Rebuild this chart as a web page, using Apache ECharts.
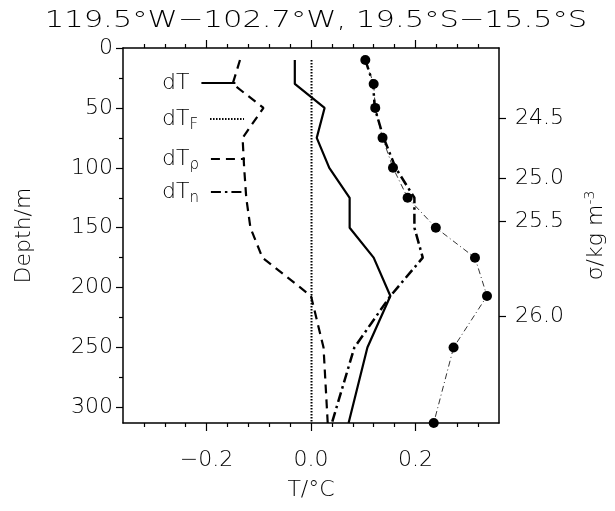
<!DOCTYPE html>
<html>
<head>
<meta charset="utf-8">
<script src="https://cdn.jsdelivr.net/npm/echarts@6/dist/echarts.min.js"></script>
<style>
  html, body { margin: 0; padding: 0; background: #fff; }
  #chart { width: 615px; height: 511px; }
</style>
</head>
<body>
<div id="chart"></div>
<script>
// 标题
var titleText = '119.5°W−102.7°W, 19.5°S−15.5°S'

// 深度 (m)，各曲线共用
var depths = [10, 30, 50, 75, 100, 125, 150, 175, 207, 250, 313]

// 四条温度曲线 (°C)
var dT     = [-0.031, -0.031, 0.026, 0.011, 0.035, 0.074, 0.074, 0.120, 0.152, 0.108, 0.072]
var dTF    = [0.001, 0.001, 0.001, 0.001, 0.001, 0.001, 0.001, 0.001, 0.001, 0.001, 0.001]
var dTrho  = [-0.136, -0.150, -0.091, -0.131, -0.128, -0.124, -0.116, -0.093, 0.000, 0.024, 0.032]
var dTn    = [0.104, 0.119, 0.122, 0.139, 0.162, 0.198, 0.198, 0.214, 0.152, 0.083, 0.040]

// 黑点曲线
var dotValues = [0.104, 0.120, 0.123, 0.137, 0.157, 0.185, 0.239, 0.314, 0.337, 0.273, 0.235]

// 图例
var legendNames = ['dT', 'dTF', 'dTrho', 'dTn']
var legendLabels = ['dT', 'dT{sub|F}', 'dT{sub|ρ}', 'dT{sub|n}']
var legendTops = [67, 103, 143, 176]

// 坐标轴刻度
var xMajorTicks = [-0.2, 0.0, 0.2]
var xMinorTicks = [-0.32, -0.28, -0.24, -0.16, -0.12, -0.08, -0.04, 0.04, 0.08, 0.12, 0.16, 0.24, 0.28, 0.32]
var yMajorTicks = [0, 50, 100, 150, 200, 250, 300]
var yMinorTicks = [25, 75, 125, 175, 225, 275]
// 右轴：密度刻度所在深度与标签
var sigmaDepths = [58.6, 108.6, 144.7, 224]
var sigmaLabels = ['24.5', '25.0', '25.5', '26.0']

function pairs(xs) {
    var out = []
    for (var i = 0; i < depths.length; i++) {
        out.push([xs[i], depths[i]])
    }
    return out
}

var FONT = 'DejaVu Sans'
var WEIGHT = 200
var chart = echarts.init(document.getElementById('chart'))

function xAxisCfg(pos, ticks, len, main) {
    return {
        type: 'value',
        position: pos,
        min: -0.36,
        max: 0.36,
        axisLine: { show: main, onZero: false, lineStyle: { color: '#000', width: 1.5 } },
        axisTick: { show: true, customValues: ticks, length: len, lineStyle: { color: '#000', width: 1.2 } },
        axisLabel: {
            show: main && pos == 'bottom',
            customValues: xMajorTicks,
            margin: 26,
            color: '#000',
            fontFamily: FONT,
            fontWeight: WEIGHT,
            fontSize: 22,
            formatter: function (v) {
                var s = Math.abs(v).toFixed(1)
                return v < -1e-9 ? '−' + s : s
            }
        },
        splitLine: { show: false },
        name: (main && pos == 'bottom') ? 'T/°C' : '',
        nameLocation: 'middle',
        nameGap: 56,
        nameTextStyle: { color: '#000', fontFamily: FONT, fontWeight: WEIGHT, fontSize: 22 }
    }
}

// 每个图例项单独一个 legend，保证文字左对齐
var legends = []
for (var i = 0; i < legendNames.length; i++) {
    (function (k) {
        legends.push({
            orient: 'vertical',
            left: 157,
            top: legendTops[k],
            align: 'right',
            itemWidth: 34,
            itemHeight: 14,
            selectedMode: false,
            data: [legendNames[k]],
            formatter: function () { return legendLabels[k] },
            itemStyle: { color: 'rgba(0,0,0,0)', borderWidth: 0, opacity: 0 },
            textStyle: {
                color: '#000',
                fontFamily: FONT,
                fontWeight: WEIGHT,
                fontSize: 22,
                padding: [0, 7, 0, 0],
                rich: {
                    sub: { fontFamily: FONT, fontWeight: WEIGHT, fontSize: 15, verticalAlign: 'bottom', padding: [12, 0, 0, 0] }
                }
            }
        })
    })(i)
}

var option = {
    animation: false,
    backgroundColor: '#fff',
    grid: { left: 123, right: 112, top: 48, bottom: 88, containLabel: false },

    graphic: [{
        type: 'text',
        x: 316,
        y: 21,
        scaleX: 1.33,
        style: {
            text: titleText,
            fontFamily: FONT,
            fontWeight: WEIGHT,
            fontSize: 23,
            fill: '#000',
            textAlign: 'center',
            textVerticalAlign: 'middle'
        }
    }],

    legend: legends,

    xAxis: [
        xAxisCfg('bottom', xMajorTicks, 8, true),
        xAxisCfg('bottom', xMinorTicks, 4, false),
        xAxisCfg('top', xMajorTicks, 8, true),
        xAxisCfg('top', xMinorTicks, 4, false)
    ],

    yAxis: [
        {
            type: 'value',
            position: 'left',
            inverse: true,
            min: 0,
            max: 313,
            axisLine: { show: true, onZero: false, lineStyle: { color: '#000', width: 1.5 } },
            axisTick: { customValues: yMajorTicks, length: 7, lineStyle: { color: '#000', width: 1.2 } },
            axisLabel: { customValues: yMajorTicks, margin: 10, color: '#000', fontFamily: FONT, fontWeight: WEIGHT, fontSize: 22 },
            splitLine: { show: false },
            name: 'Depth/m',
            nameLocation: 'middle',
            nameGap: 88,
            nameTextStyle: { color: '#000', fontFamily: FONT, fontWeight: WEIGHT, fontSize: 22 }
        },
        {
            type: 'value',
            position: 'left',
            inverse: true,
            min: 0,
            max: 313,
            axisLine: { show: false, onZero: false },
            axisTick: { customValues: yMinorTicks, length: 4, lineStyle: { color: '#000', width: 1.2 } },
            axisLabel: { show: false },
            splitLine: { show: false }
        },
        {
            type: 'value',
            position: 'right',
            inverse: true,
            min: 0,
            max: 313,
            axisLine: { show: true, onZero: false, lineStyle: { color: '#000', width: 1.5 } },
            axisTick: { customValues: sigmaDepths, length: 7, lineStyle: { color: '#000', width: 1.2 } },
            axisLabel: {
                customValues: sigmaDepths,
                margin: 16,
                color: '#000',
                fontFamily: FONT,
                fontWeight: WEIGHT,
                fontSize: 22,
                formatter: function (v) {
                    for (var i = 0; i < sigmaDepths.length; i++) {
                        if (Math.abs(sigmaDepths[i] - v) < 0.01) return sigmaLabels[i]
                    }
                    return ''
                }
            },
            splitLine: { show: false },
            name: 'σ/kg m{sup|-3}',
            nameLocation: 'middle',
            nameGap: 84,
            nameRotate: 90,
            nameTextStyle: {
                color: '#000', fontFamily: FONT, fontWeight: WEIGHT, fontSize: 22,
                rich: { sup: { fontFamily: FONT, fontWeight: WEIGHT, fontSize: 14, verticalAlign: 'top', padding: [0, 0, 12, 0] } }
            }
        }
    ],

    series: [
        {
            name: 'dT', type: 'line', xAxisIndex: 0, yAxisIndex: 0,
            data: pairs(dT), symbol: 'none',
            lineStyle: { color: '#000', width: 2.2, type: 'solid' },
            itemStyle: { color: '#000' }
        },
        {
            name: 'dTF', type: 'line', xAxisIndex: 0, yAxisIndex: 0,
            data: pairs(dTF), symbol: 'none',
            lineStyle: { color: '#000', width: 2, type: [1.5, 1.5] },
            itemStyle: { color: '#000' }
        },
        {
            name: 'dTrho', type: 'line', xAxisIndex: 0, yAxisIndex: 0,
            data: pairs(dTrho), symbol: 'none',
            lineStyle: { color: '#000', width: 2.2, type: [9, 6] },
            itemStyle: { color: '#000' }
        },
        {
            name: 'dTn', type: 'line', xAxisIndex: 0, yAxisIndex: 0,
            data: pairs(dTn), symbol: 'none',
            lineStyle: { color: '#000', width: 2.5, type: [10, 4, 2.5, 4] },
            itemStyle: { color: '#000' }
        },
        {
            name: 'sigma', type: 'line', xAxisIndex: 0, yAxisIndex: 0,
            data: pairs(dotValues), symbol: 'circle', symbolSize: 10,
            lineStyle: { color: '#000', width: 0.8, type: [6, 3, 1, 3] },
            itemStyle: { color: '#000' }
        }
    ]
}

chart.setOption(option)
</script>
</body>
</html>
